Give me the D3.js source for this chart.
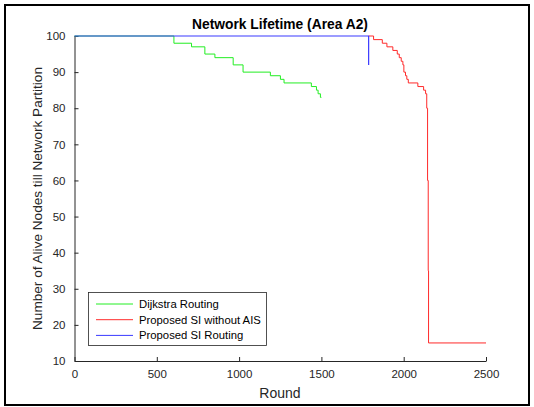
<!DOCTYPE html>
<meta charset="utf-8">
<style>
body { margin: 0; background: #fff; }
text { font-family: "Liberation Sans", Arial, sans-serif; }
.axis path, .axis line { stroke: #262626; }
.axis text { fill: #262626; font-size: 11.5px; }
</style>
<svg width="534" height="407"></svg>
<script src="https://d3js.org/d3.v7.min.js"></script>
<script>

// step points (round, alive nodes)
var dijkstra = [
  [0, 100], [604, 98], [711, 97], [792, 95], [853, 94], [964, 92], [1024, 90],
  [1190, 89], [1251, 88], [1273, 87], [1439, 86], [1470, 85], [1480, 84],
  [1494, 83], [1500, 83]
];
var withoutAIS = [
  [1787, 100], [1817, 99], [1870, 98], [1898, 97], [1934, 96], [1961, 95],
  [1973, 94], [1985, 93], [1995, 92], [2001, 90], [2011, 89], [2019, 88],
  [2028, 87], [2086, 86], [2121, 85], [2133, 84], [2140, 80], [2145, 60],
  [2149, 35], [2151, 15], [2500, 15]
];
var siRouting = [[0, 100], [1787, 100], [1787, 92]];

var xTicks = [0, 500, 1000, 1500, 2000, 2500];
var yTicks = [10, 20, 30, 40, 50, 60, 70, 80, 90, 100];
var seriesNames = ["Dijkstra Routing", "Proposed SI without AIS", "Proposed SI Routing"];
var seriesColors = ["#22ee22", "#ff2a2a", "#3a3aff"];

var svg = d3.select("svg");

svg.append("rect")
    .attr("x", 5).attr("y", 5)
    .attr("width", 524).attr("height", 400)
    .attr("fill", "none")
    .attr("stroke", "#000")
    .attr("stroke-width", 2);

var x = d3.scaleLinear().domain([0, 2500]).range([74.5, 486]);
var y = d3.scaleLinear().domain([10, 100]).range([361, 36]);

svg.append("g")
    .attr("class", "axis")
    .attr("transform", "translate(0," + y(10) + ")")
    .call(d3.axisBottom(x).tickValues(xTicks).tickFormat(d3.format("d"))
      .tickSizeInner(-4).tickSizeOuter(0).tickPadding(9));

svg.append("g")
    .attr("class", "axis")
    .attr("transform", "translate(" + x(0) + ",0)")
    .call(d3.axisLeft(y).tickValues(yTicks).tickFormat(d3.format("d"))
      .tickSizeInner(-4).tickSizeOuter(0).tickPadding(9));

var line = d3.line()
    .x(function(d) { return x(d[0]); })
    .y(function(d) { return y(d[1]); })
    .curve(d3.curveStepAfter);

[dijkstra, withoutAIS].forEach(function(s, i) {
  svg.append("path")
      .datum(s)
      .attr("fill", "none")
      .attr("stroke", seriesColors[i])
      .attr("stroke-width", 1)
      .attr("d", line);
});

svg.append("path")
    .datum(siRouting)
    .attr("fill", "none")
    .attr("stroke", seriesColors[2])
    .attr("stroke-width", 1.2)
    .attr("d", d3.line().x(function(d) { return x(d[0]); }).y(function(d) { return y(d[1]); }));

svg.append("text")
    .attr("x", 280).attr("y", 29)
    .attr("text-anchor", "middle")
    .style("font-size", "13.8px")
    .style("font-weight", "bold")
    .text("Network Lifetime (Area A2)");

svg.append("text")
    .attr("x", 280).attr("y", 398)
    .attr("text-anchor", "middle")
    .attr("fill", "#262626")
    .style("font-size", "14px")
    .text("Round");

svg.append("text")
    .attr("transform", "translate(42," + ((y(10) + y(100)) / 2) + ") rotate(-90)")
    .attr("text-anchor", "middle")
    .attr("fill", "#262626")
    .style("font-size", "13.6px")
    .text("Number of Alive Nodes till Network Partition");

var legend = svg.append("g");
legend.append("rect")
    .attr("x", 88.5).attr("y", 292.5)
    .attr("width", 178).attr("height", 53)
    .attr("fill", "#fff")
    .attr("stroke", "#262626")
    .attr("stroke-width", 0.8);

seriesNames.forEach(function(name, i) {
  var ly = 304 + i * 15.7;
  legend.append("line")
      .attr("x1", 96).attr("x2", 133)
      .attr("y1", ly).attr("y2", ly)
      .attr("stroke", seriesColors[i]);
  legend.append("text")
      .attr("x", 139).attr("y", ly + 4)
      .attr("fill", "#000")
      .style("font-size", "11.3px")
      .text(name);
});

</script>
